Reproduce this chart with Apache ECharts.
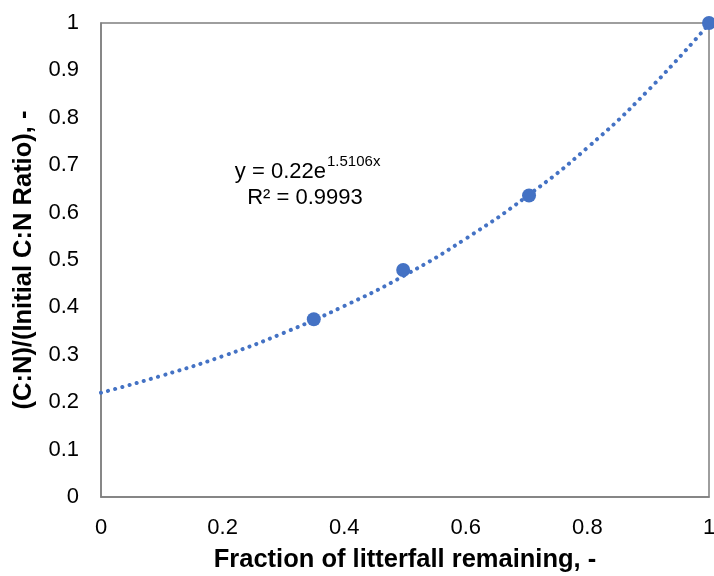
<!DOCTYPE html>
<html>
<head>
<meta charset="utf-8">
<script src="https://cdn.jsdelivr.net/npm/echarts@6/dist/echarts.min.js"></script>
<style>html,body{margin:0;padding:0;background:#fff;}#c{width:714px;height:576px;}</style>
</head>
<body>
<div id="c"></div>
<script>
// Observed data points
const obsX = [0.35, 0.497, 0.704, 1.0];
const obsY = [0.375, 0.479, 0.636, 1.0];
// Exponential trendline at x = 0, 0.1, ... 1
const trendX = [0, 0.1, 0.2, 0.3, 0.4, 0.5, 0.6, 0.7, 0.8, 0.9, 1.0];
const trendY = [0.22, 0.256, 0.297, 0.346, 0.403, 0.468, 0.545, 0.634, 0.737, 0.858, 0.998];
const xTitle = 'Fraction of litterfall remaining, -';
const yTitle = '(C:N)/(Initial C:N Ratio), -';
const eqMain = 'y = 0.22e';
const eqExp = '1.5106x';
const r2Text = 'R² = 0.9993';

const blue = '#4472C4';
const font = "'Liberation Sans', Arial, sans-serif";

const chart = echarts.init(document.getElementById('c'), null, {renderer: 'canvas'});
chart.setOption({
  animation: false,
  backgroundColor: '#fff',
  grid: {left: 101, right: 5, top: 23, bottom: 79, show: true, borderColor: '#7f7f7f', borderWidth: 1.5, containLabel: false, outerBoundsMode: 'none'},
  xAxis: {
    type: 'value', min: 0, max: 1, interval: 0.2,
    name: xTitle, nameLocation: 'middle', nameGap: 50,
    nameTextStyle: {fontFamily: font, fontSize: 25.5, fontWeight: 'bold', color: '#000'},
    axisLine: {show: true, lineStyle: {color: '#7f7f7f', width: 1.5}},
    axisTick: {show: false},
    splitLine: {show: false},
    axisLabel: {fontFamily: font, fontSize: 22, color: '#000', margin: 20}
  },
  yAxis: {
    type: 'value', min: 0, max: 1, interval: 0.1,
    name: yTitle, nameLocation: 'middle', nameGap: 64,
    nameTextStyle: {fontFamily: font, fontSize: 25.5, fontWeight: 'bold', color: '#000'},
    axisLine: {show: true, lineStyle: {color: '#7f7f7f', width: 1.5}},
    axisTick: {show: false},
    splitLine: {show: false},
    axisLabel: {fontFamily: font, fontSize: 22, color: '#000', margin: 22}
  },
  graphic: [
    {type: 'text', x: 326, y: 172, style: {text: eqMain, font: "22px " + font, fill: '#000', textAlign: 'right', textVerticalAlign: 'middle'}},
    {type: 'text', x: 327, y: 162, style: {text: eqExp, font: "15px " + font, fill: '#000', textAlign: 'left', textVerticalAlign: 'middle'}},
    {type: 'text', x: 305, y: 198, style: {text: r2Text, font: "22px " + font, fill: '#000', textAlign: 'center', textVerticalAlign: 'middle'}}
  ],
  series: [
    {
      type: 'line', data: trendX.map((x, i) => [x, trendY[i]]),
      smooth: true, symbol: 'none', z: 2,
      lineStyle: {color: blue, width: 4, type: [0.1, 7.3], cap: 'round'}
    },
    {
      type: 'scatter', data: obsX.map((x, i) => [x, obsY[i]]),
      symbol: 'circle', symbolSize: 14, z: 3,
      itemStyle: {color: blue, opacity: 1}
    }
  ]
});
</script>
</body>
</html>
